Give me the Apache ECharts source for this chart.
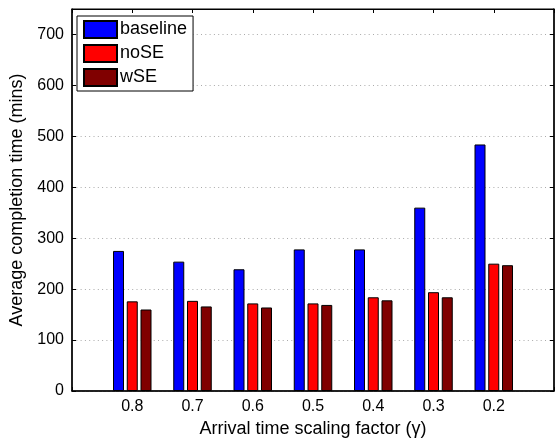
<!DOCTYPE html>
<html><head><meta charset="utf-8">
<script src="https://cdn.jsdelivr.net/npm/echarts@6/dist/echarts.min.js"></script>
<style>html,body{margin:0;padding:0;background:#fff}#c{width:556px;height:438px}</style>
</head><body><div id="c"></div>
<script>
var categories = ['0.8','0.7','0.6','0.5','0.4','0.3','0.2'];
var baseline = [275, 254, 239, 278, 278, 360, 484];
var noSE = [176, 177, 172, 172, 184, 194, 250];
var wSE = [160, 166, 164, 169, 178, 184, 247];
var yTicks = [0,100,200,300,400,500,600,700];

function pairs(arr){ return arr.map(function(v,i){ return [i+1, v]; }); }
var catPos = categories.map(function(c,i){ return i+1; });
var font = 'Liberation Sans, Arial, Helvetica, sans-serif';
var chart = echarts.init(document.getElementById('c'));
function barSeries(name, data, color){
  return {name:name, type:'bar', data:pairs(data), barWidth:11, barGap:'25%',
    itemStyle:{color:color, borderColor:'#000', borderWidth:1}, xAxisIndex:0, yAxisIndex:0};
}
function tickStyle(){ return {show:true, inside:true, length:4, lineStyle:{color:'#000', width:1}}; }
chart.setOption({
  animation:false,
  textStyle:{fontFamily:font},
  grid:{left:72, right:2, top:9, bottom:47, outerBoundsMode:'none', containLabel:false,
    show:true, borderColor:'#000', borderWidth:1, backgroundColor:'transparent'},
  legend:{orient:'vertical', left:77, top:16, icon:'rect', itemWidth:33, itemHeight:17, itemGap:5,
    padding:[4,6,4,6], borderColor:'#000', borderWidth:1, backgroundColor:'#fff', borderRadius:0,
    textStyle:{fontSize:18, color:'#000', fontFamily:font, padding:[0,0,0,-2]},
    data:['baseline','noSE','wSE']},
  xAxis:[{type:'value', min:0, max:8, interval:1, position:'bottom',
      name:'Arrival time scaling factor (\u03b3)', nameLocation:'middle', nameGap:23,
      nameTextStyle:{fontSize:18, color:'#000', fontFamily:font},
      axisLine:{show:true, onZero:false, lineStyle:{color:'#000', width:1.5}},
      axisTick:tickStyle(),
      axisLabel:{fontSize:16, color:'#000', margin:8, customValues:catPos,
        formatter:function(v){ return categories[Math.round(v)-1] || ''; }},
      splitLine:{show:false}},
    {type:'value', min:0, max:8, interval:1, position:'top',
      axisLine:{show:true, onZero:false, lineStyle:{color:'#000'}},
      axisTick:tickStyle(),
      axisLabel:{show:false}, splitLine:{show:false}}],
  yAxis:[{type:'value', min:0, max:750, interval:100, position:'left',
      name:'Average completion time (mins)', nameLocation:'middle', nameGap:38,
      nameTextStyle:{fontSize:18, color:'#000', fontFamily:font},
      axisLine:{show:true, onZero:false, lineStyle:{color:'#000', width:1.5}},
      axisTick:tickStyle(),
      axisLabel:{fontSize:16, color:'#000', margin:8, customValues:yTicks,
        formatter:function(v){ return String(v); }},
      splitLine:{show:true, lineStyle:{color:'#aaa', type:[1,3.3], width:1}}},
    {type:'value', min:0, max:750, interval:100, position:'right',
      axisLine:{show:true, onZero:false, lineStyle:{color:'#000', width:1.5}},
      axisTick:tickStyle(),
      axisLabel:{show:false}, splitLine:{show:false}}],
  series:[barSeries('baseline', baseline, '#0000ff'), barSeries('noSE', noSE, '#ff0000'), barSeries('wSE', wSE, '#800000')]
});
</script></body></html>
